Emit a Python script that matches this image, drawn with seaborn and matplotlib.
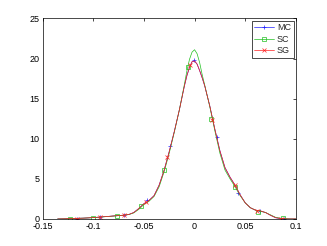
import matplotlib
matplotlib.use("Agg")
import matplotlib.pyplot as plt
import seaborn as sns
import pandas as pd
from matplotlib.lines import Line2D

# Curve grid and values
x_grid = [-0.135, -0.13, -0.125, -0.12, -0.115, -0.11, -0.105, -0.1, -0.095, -0.09,
          -0.085, -0.08, -0.075, -0.07, -0.065, -0.06, -0.055, -0.05, -0.045, -0.04,
          -0.035, -0.03, -0.025, -0.02, -0.015, -0.01, -0.0075, -0.005, -0.0025, 0.0,
          0.0025, 0.005, 0.0075, 0.01, 0.015, 0.02, 0.025, 0.03, 0.035, 0.04, 0.045,
          0.05, 0.055, 0.06, 0.065, 0.07, 0.075, 0.08, 0.085, 0.09, 0.095, 0.1]
mc = [0.0, 0.01, 0.03, 0.05, 0.08, 0.1, 0.13, 0.17, 0.22, 0.27,
      0.32, 0.37, 0.42, 0.47, 0.55, 0.8, 1.3, 1.9, 2.3, 2.9,
      4.2, 6.1, 8.4, 10.9, 13.6, 16.6, 17.9, 18.9, 19.6, 19.7,
      19.3, 18.5, 17.6, 16.6, 14.1, 11.2, 8.5, 6.4, 5.2, 4.2, 3.0,
      2.0, 1.4, 1.1, 1.0, 0.8, 0.45, 0.15, 0.05, 0.01, 0.0, 0.0]
sc = [0.0, 0.01, 0.03, 0.05, 0.08, 0.1, 0.13, 0.16, 0.21, 0.26,
      0.31, 0.36, 0.41, 0.46, 0.54, 0.75, 1.2, 1.8, 2.2, 2.8,
      4.0, 5.9, 8.2, 10.8, 13.6, 16.8, 18.5, 19.9, 20.8, 21.1,
      20.6, 19.5, 18.0, 16.7, 14.0, 11.0, 8.2, 6.1, 5.0, 4.0, 2.9,
      2.0, 1.4, 1.1, 0.95, 0.8, 0.5, 0.2, 0.08, 0.02, 0.0, 0.0]
sg = [0.0, 0.01, 0.03, 0.05, 0.08, 0.1, 0.13, 0.17, 0.22, 0.27,
      0.32, 0.37, 0.42, 0.47, 0.55, 0.8, 1.3, 1.9, 2.3, 2.9,
      4.2, 6.1, 8.4, 10.9, 13.6, 16.6, 17.9, 18.9, 19.6, 19.7,
      19.3, 18.5, 17.6, 16.6, 14.1, 11.2, 8.5, 6.4, 5.2, 4.2, 3.0,
      2.0, 1.4, 1.1, 1.0, 0.8, 0.45, 0.15, 0.05, 0.01, 0.0, 0.0]

# Marker positions
mc_mx = [-0.116, -0.093, -0.070, -0.047, -0.024, -0.001, 0.022, 0.043, 0.065, 0.088]
mc_my = [0.05, 0.2, 0.5, 2.3, 9.1, 19.8, 10.2, 3.2, 1.0, 0.02]
sc_mx = [-0.123, -0.100, -0.077, -0.053, -0.030, -0.0065, 0.0166, 0.040, 0.063, 0.087]
sc_my = [0.05, 0.12, 0.4, 1.6, 6.1, 18.9, 12.5, 4.0, 0.9, 0.1]
sg_mx = [-0.116, -0.0936, -0.070, -0.0478, -0.027, -0.0049, 0.0175, 0.040, 0.062, 0.085]
sg_my = [0.05, 0.2, 0.5, 2.1, 7.7, 19.2, 12.3, 4.2, 1.0, 0.05]

labels = ["MC", "SC", "SG"]
colors = ["#2020ff", "#20c020", "#ff2020"]
markers = ["+", "s", "x"]

sns.set_style("white")
plt.rcParams["font.family"] = ["Liberation Sans", "DejaVu Sans"]
plt.rcParams["font.size"] = 6.5

fig = plt.figure(figsize=(3.27, 2.46), dpi=100)
ax = fig.add_axes([0.13, 0.11, 0.775, 0.815])

curves = [mc, sc, sg]
mxs = [mc_mx, sc_mx, sg_mx]
mys = [mc_my, sc_my, sg_my]
for lab, col, mk, yv, mx, my in zip(labels, colors, markers, curves, mxs, mys):
    df = pd.DataFrame({"x": x_grid, "y": yv})
    sns.lineplot(data=df, x="x", y="y", ax=ax, color=col, lw=0.5, sort=False)
    dm = pd.DataFrame({"x": mx, "y": my})
    ax.plot(dm["x"], dm["y"], linestyle="none", marker=mk, markersize=3.3,
            markerfacecolor="none", markeredgecolor=col, markeredgewidth=0.5)

ax.set_xlim(-0.15, 0.1)
ax.set_ylim(0, 25)
ax.set_xticks([-0.15, -0.1, -0.05, 0, 0.05, 0.1])
ax.set_xticklabels(["-0.15", "-0.1", "-0.05", "0", "0.05", "0.1"])
ax.set_yticks([0, 5, 10, 15, 20, 25])
ax.set_yticklabels(["0", "5", "10", "15", "20", "25"])
ax.set_xlabel("")
ax.set_ylabel("")
ax.tick_params(direction="in", length=2.5, width=0.5, top=True, right=True,
               pad=2, labelsize=6.5, colors="black")
for s in ax.spines.values():
    s.set_linewidth(0.5)
    s.set_color("black")

handles = [Line2D([0], [0], color=c, lw=0.5, marker=m, markersize=3.3,
                  markerfacecolor="none", markeredgecolor=c, markeredgewidth=0.5)
           for c, m in zip(colors, markers)]
leg = ax.legend(handles, labels, loc="upper right", fontsize=6.5, frameon=True,
                fancybox=False, framealpha=1, edgecolor="black",
                handlelength=2.2, handletextpad=0.3, borderpad=0.3,
                labelspacing=0.25, borderaxespad=0.25)
leg.get_frame().set_linewidth(0.5)

fig.savefig("out.png", dpi=100)
